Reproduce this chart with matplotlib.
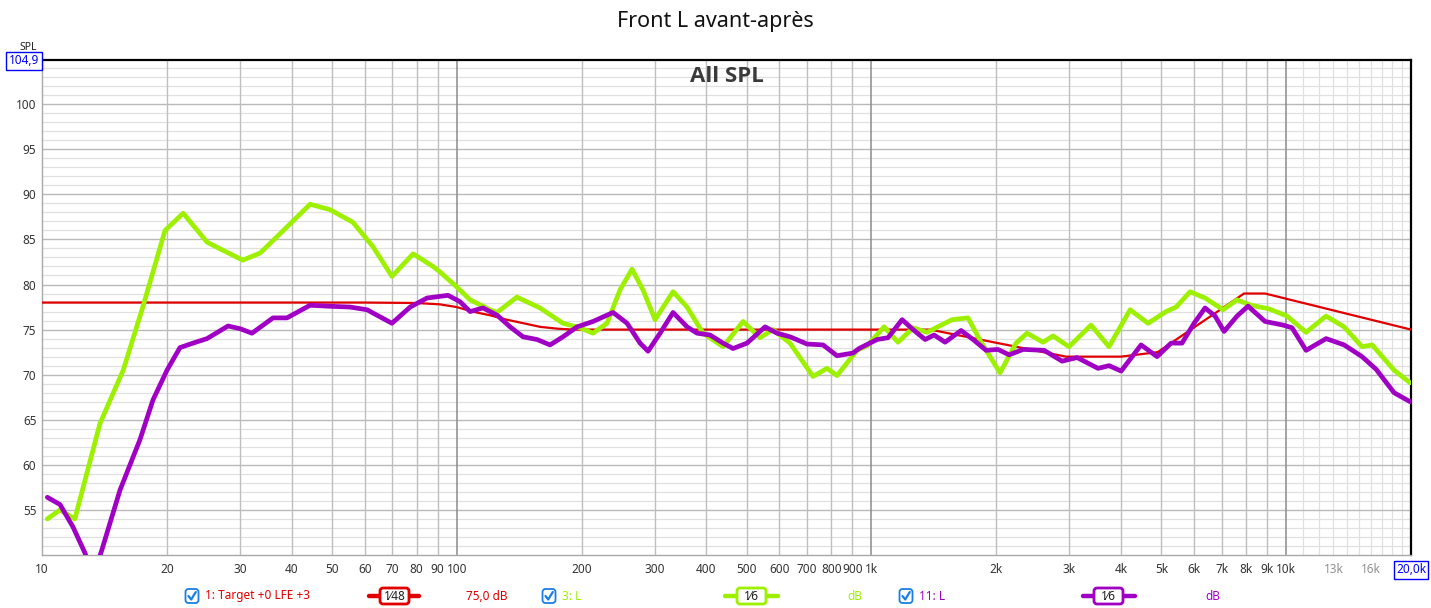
import numpy as np
import matplotlib
matplotlib.use('Agg')
import matplotlib.pyplot as plt
from matplotlib.patches import FancyBboxPatch
from matplotlib.lines import Line2D
from matplotlib.transforms import IdentityTransform

plt.rcParams['font.family'] = ['Noto Sans', 'DejaVu Sans']

# ---------------- data ----------------
title = "Front L avant-après"
subtitle = "All SPL"

# 1: Target +0 LFE +3  (red)
target_freq = [10, 60, 80, 91, 100, 109, 120, 132, 145, 159, 175, 191, 210, 1384, 2946, 4000, 4900, 7915, 8897, 20000]
target_db   = [78.0, 78.0, 77.95, 77.8, 77.5, 77.0, 76.6, 76.1, 75.7, 75.3, 75.1, 75.0, 75.0, 75.0, 72.0, 72.0, 72.5, 79.0, 79.0, 75.0]

# 3: L  (green, before)
before_freq = [10.3, 11.05, 12.0, 13.8, 15.7, 17.5, 19.8, 21.9, 25.0, 27.3, 30.5, 33.6, 39.0, 44.3, 49.5,
               56.2, 62.8, 69.8, 78.5, 87.7, 91.1, 100.2, 107.7, 120.3, 125.1, 139.7, 158.8, 180.4, 198.3,
               213.1, 230.3, 247.6, 264.7, 281.3, 300.8, 332.4, 359.3, 392.6, 438.7, 490.2, 538.7, 579.0,
               636.3, 723.1, 781.4, 826.0, 923.2, 975.8, 1073, 1159, 1260, 1362, 1565, 1710, 1828, 2042,
               2232, 2373, 2593, 2741, 2995, 3384, 3740, 4204, 4645, 5134, 5428, 5866, 6374, 7046, 7614,
               8229, 9095, 10051, 11170, 12485, 13794, 15241, 16117, 18206, 19900]
before_db   = [54.0, 55.0, 54.0, 64.6, 70.5, 77.5, 86.0, 87.9, 84.7, 83.8, 82.7, 83.5, 86.4, 88.9, 88.3,
               86.9, 84.2, 80.9, 83.4, 82.0, 81.4, 79.7, 78.3, 77.2, 76.9, 78.6, 77.4, 75.7, 75.2,
               74.6, 75.7, 79.4, 81.7, 79.4, 76.1, 79.2, 77.5, 74.6, 73.1, 75.9, 74.1, 75.0,
               73.5, 69.8, 70.7, 69.9, 72.7, 73.2, 75.3, 73.6, 75.2, 74.7, 76.1, 76.3, 73.8, 70.2,
               73.5, 74.6, 73.6, 74.3, 73.1, 75.5, 73.1, 77.2, 75.7, 77.0, 77.5, 79.2, 78.5, 77.2, 78.3,
               77.7, 77.3, 76.5, 74.7, 76.5, 75.3, 73.1, 73.3, 70.5, 69.1]

# 11: L  (purple, after)
after_freq = [10.3, 11.05, 11.88, 12.7, 13.27, 13.95, 15.42, 17.23, 18.52, 20.02, 21.51, 23.13, 25.0,
              28.09, 30.02, 32.09, 36.06, 38.97, 44.3, 48.7, 55.3, 60.8, 64.2, 69.8, 77.2, 84.8, 95.3,
              101.8, 107.7, 115.7, 125.1, 134.5, 144.5, 156.2, 167.9, 180.4, 195.0, 213.1, 238.2, 257.5,
              276.7, 289.3, 309.3, 332.4, 359.3, 379.8, 408.1, 438.7, 463.7, 501.2, 553.9, 592.1, 636.3,
              699.4, 764.3, 826.0, 902.9, 933.5, 1031.6, 1096.5, 1185.5, 1260, 1347, 1416, 1505, 1645,
              1758, 1890, 2020, 2147, 2321, 2608, 2882, 3132, 3519, 3740, 4000, 4468, 4884, 5278, 5610,
              5997, 6374, 6740, 7084, 7614, 8093, 8894, 9829, 10332, 11170, 12485, 13794, 15241, 16476,
              18206, 19900]
after_db   = [56.4, 55.6, 53.1, 50.2, 47.5, 50.6, 57.2, 62.8, 67.2, 70.5, 73.0, 73.5, 74.0,
              75.4, 75.1, 74.6, 76.3, 76.3, 77.7, 77.6, 77.5, 77.2, 76.6, 75.7, 77.5, 78.5, 78.8,
              78.1, 77.0, 77.4, 76.6, 75.3, 74.2, 73.9, 73.3, 74.2, 75.3, 75.9, 76.9, 75.7,
              73.5, 72.6, 74.6, 76.9, 75.3, 74.6, 74.4, 73.5, 72.9, 73.5, 75.3, 74.6, 74.2,
              73.4, 73.3, 72.1, 72.4, 72.9, 73.9, 74.1, 76.1, 75.0, 73.9, 74.4, 73.6, 74.9,
              73.9, 72.7, 72.8, 72.2, 72.8, 72.7, 71.5, 71.9, 70.7, 71.0, 70.4, 73.3, 72.0, 73.5, 73.5,
              75.7, 77.4, 76.5, 74.8, 76.5, 77.6, 75.9, 75.5, 75.2, 72.7, 74.0, 73.3, 72.0, 70.6,
              68.0, 67.0]

y_ticks = [55, 60, 65, 70, 75, 80, 85, 90, 95, 100]
x_ticks = [10, 20, 30, 40, 50, 60, 70, 80, 90, 100, 200, 300, 400, 500, 600, 700, 800, 900,
           1000, 2000, 3000, 4000, 5000, 6000, 7000, 8000, 9000, 10000, 13000, 16000, 20000]
x_tick_labels = ["10", "20", "30", "40", "50", "60", "70", "80", "90", "100", "200", "300", "400",
                 "500", "600", "700", "800", "900", "1k", "2k", "3k", "4k", "5k", "6k", "7k", "8k",
                 "9k", "10k", "13k", "16k", "20,0k"]

legend_labels = ["1: Target +0 LFE +3", "3: L", "11: L"]
legend_smooth = ["1\u204448", "1\u20446", "1\u20446"]
legend_values = ["75,0 dB", "dB", "dB"]

RED = '#e00000'
GREEN = '#9cf000'
PURPLE = '#a000c4'
BLUE = '#1a7fe0'

# ---------------- figure ----------------
W, H = 1431, 608
fig = plt.figure(figsize=(W / 100, H / 100), dpi=100)
fig.patch.set_facecolor('white')

L, R, T, B = 42, 1411, 60, 555
ax = fig.add_axes([L / W, 1 - B / H, (R - L) / W, (B - T) / H])
ax.set_xscale('log')
ax.set_xlim(10, 20000)
ax.set_ylim(50, 104.9)

# grid
for v in range(51, 105):
    if v % 5 == 0:
        ax.axhline(v, color='#b9b9b9', lw=1.0, zorder=0.6)
    else:
        ax.axhline(v, color='#e0e0e0', lw=0.9, zorder=0.5)
for dec in [10, 100, 1000]:
    for m in range(2, 10):
        ax.axvline(dec * m, color='#bebebe', lw=1.0, zorder=0.6)
for f in [100, 1000, 10000]:
    ax.axvline(f, color='#8c8c8c', lw=1.1, zorder=0.7)
for m in range(11, 20):
    ax.axvline(m * 1000, color='#e0e0e0', lw=0.9, zorder=0.5)

for s in ['left', 'bottom']:
    ax.spines[s].set_color('#a8a8a8')
    ax.spines[s].set_linewidth(1.0)
for s in ['top', 'right']:
    ax.spines[s].set_color('black')
    ax.spines[s].set_linewidth(1.6)

# curves
ax.plot(target_freq, target_db, color=RED, lw=1.6, zorder=3, solid_joinstyle='round')
ax.plot(before_freq, before_db, color=GREEN, lw=3.4, zorder=4,
        solid_joinstyle='round', solid_capstyle='round')
ax.plot(after_freq, after_db, color=PURPLE, lw=3.4, zorder=5,
        solid_joinstyle='round', solid_capstyle='round')

# ticks
ax.set_yticks(y_ticks)
ax.set_yticklabels([str(v) for v in y_ticks])
ax.set_xticks(x_ticks)
ax.set_xticklabels(x_tick_labels)
ax.minorticks_off()
ax.tick_params(axis='both', length=0, labelsize=8.5, colors='#333333')
ax.tick_params(axis='y', pad=4)
ax.tick_params(axis='x', pad=6)
for lab in ax.get_xticklabels():
    if lab.get_text() in ("13k", "16k"):
        lab.set_color('#909090')
    if lab.get_text() == "20,0k":
        lab.set_color('#0000ff')
        lab.set_bbox(dict(boxstyle='square,pad=0.2', fc='white', ec='#0000ff', lw=1.0))

# title & subtitle
fig.text(0.5, 1 - 22 / H, title, ha='center', va='center', fontsize=15.5, color='#111111')
ax.text(0.5, 0.966, subtitle, transform=ax.transAxes, ha='center', va='center',
        fontsize=16, fontweight='bold', color='#3a3a3a',
        family=['Open Sans', 'Liberation Sans', 'DejaVu Sans'])

# SPL and top value box
fig.text(28 / W, 1 - 48 / H, "SPL", ha='center', va='center', fontsize=7.5, color='#222222')
fig.text(24 / W, 1 - 61 / H, "104,9", ha='center', va='center', fontsize=8.5, color='#0000ff',
         bbox=dict(boxstyle='square,pad=0.2', fc='white', ec='#0000ff', lw=1.0))

# ---------------- legend row ----------------
tr = IdentityTransform()
ly = 596


def checkbox(cx):
    box = FancyBboxPatch((cx - 6.5, H - ly - 7), 13, 14,
                         boxstyle='round,pad=0,rounding_size=3',
                         fc='white', ec=BLUE, lw=1.3, transform=tr)
    fig.patches.append(box)
    fig.lines.append(Line2D([cx - 3.5, cx - 0.8, cx + 3.8], [H - ly, H - ly - 3.5, H - ly + 4],
                            color=BLUE, lw=1.6, transform=tr, solid_capstyle='round'))


def smooth_symbol(x0, x1, bx0, bx1, color, text):
    fig.lines.append(Line2D([x0, x1], [H - ly, H - ly], color=color, lw=3.2, transform=tr,
                            solid_capstyle='round'))
    box = FancyBboxPatch((bx0, H - ly - 8), bx1 - bx0, 16,
                         boxstyle='round,pad=0,rounding_size=3',
                         fc='white', ec=color, lw=2.0, transform=tr, zorder=3)
    fig.patches.append(box)
    fig.text((bx0 + bx1) / 2 / W, 1 - (ly + 1) / H, text, ha='center', va='center',
             fontsize=8.5, color='#222222', zorder=4)


colors = [RED, GREEN, PURPLE]
cb_x = [192, 549, 906]
lab_x = [205, 562, 919]
sym = [(369, 419, 380, 409), (725, 778, 737, 766), (1083, 1135, 1094, 1123)]
val_x = [466, 847, 1205]
for i in range(3):
    checkbox(cb_x[i])
    fig.text(lab_x[i] / W, 1 - ly / H, legend_labels[i], ha='left', va='center',
             fontsize=8.5, color=colors[i])
    smooth_symbol(*sym[i], colors[i], legend_smooth[i])
    fig.text(val_x[i] / W, 1 - ly / H, legend_values[i], ha='left', va='center',
             fontsize=8.5, color=colors[i])

fig.savefig('out.png', dpi=100)
